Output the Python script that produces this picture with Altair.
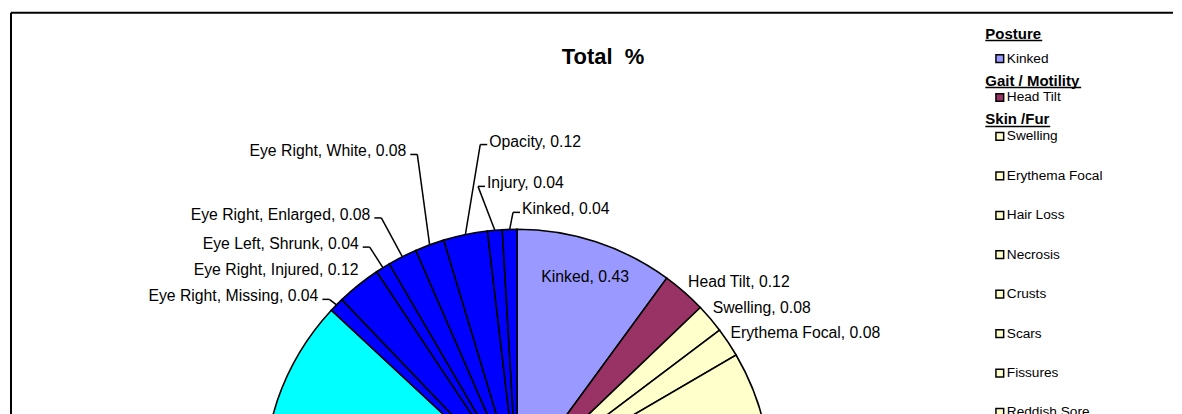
import math
import altair as alt
import pandas as pd

# ---------------- data ----------------
TITLE = "Total\u00a0 %"

# slices, clockwise from 12 o'clock
CATEGORIES = [
    "Kinked", "Head Tilt", "Swelling", "Erythema Focal", "Hair Loss", "Necrosis",
    "Crusts", "Scars", "Fissures", "Reddish Sore", "Emaciated",
    "Eye Right, Missing", "Eye Right, Injured", "Eye Left, Shrunk",
    "Eye Right, Enlarged", "Eye Right, White", "Opacity", "Injury", "Kinked",
]
VALUES = [
    0.43, 0.12, 0.08, 0.08, 0.72, 0.12,
    0.16, 0.08, 0.08, 0.65, 1.20,
    0.04, 0.12, 0.04,
    0.08, 0.08, 0.12, 0.04, 0.04,
]
GROUPS = [
    "Posture", "Gait / Motility", "Skin /Fur", "Skin /Fur", "Skin /Fur", "Skin /Fur",
    "Skin /Fur", "Skin /Fur", "Skin /Fur", "Skin /Fur", "Body Condition",
    "Eyes", "Eyes", "Eyes", "Eyes", "Eyes", "Eyes", "Eyes", "Eyes",
]
GROUP_NAMES = ["Posture", "Gait / Motility", "Skin /Fur", "Body Condition", "Eyes"]
GROUP_COLORS = ["#9999FF", "#993366", "#FFFFCC", "#00FFFF", "#0000FF"]

# ---------------- layout (pixels, page coordinates) ----------------
ORIGIN_X, ORIGIN_Y = 10, 11          # top-left of the framed chart area
W, H = 1164, 760                      # chart area (page is 1182 wide)
CX, CY, R = 517, 482, 254             # pie centre and radius
FONT = "Liberation Sans"
LABEL_SIZE = 15.8
LEGEND_SIZE = 13.7
HEADER_SIZE = 15
TITLE_X, TITLE_Y = 603, 55

# label placement per slice index: (radius, angle nudge in deg, align, leader)
LABEL_LAYOUT = {
    0: (217, 0.2, "center", False),
    1: (264, -0.8, "left", False),
    2: (263, -1.5, "left", False),
    3: (261, -1.4, "left", False),
    11: (273, -1.4, "right", True),
    12: (266, 2.0, "right", False),
    13: (287, -1.6, "right", True),
    14: (306, -1.8, "right", True),
    15: (350, 1.7, "right", True),
    16: (343, 7.1, "left", True),
    17: (301.5, -0.7, "left", True),
    18: (274, 2.7, "left", True),
}

# ---------------- geometry from data ----------------
total = sum(VALUES)
rows, labels, leaders = [], [], []
cum = 0.0
for i, (c, v, g) in enumerate(zip(CATEGORIES, VALUES, GROUPS)):
    a0 = cum / total * 360.0
    cum += v
    a1 = cum / total * 360.0
    mid = (a0 + a1) / 2.0
    rows.append({"idx": i, "label": c, "value": v, "group": g, "cx": CX, "cy": CY})
    r, nudge, align, lead = LABEL_LAYOUT.get(
        i, (268, 0.0, "left" if mid < 180 else "right", False))
    ang = math.radians(mid + nudge)
    ax = CX + r * math.sin(ang)
    ay = CY - r * math.cos(ang)
    labels.append({"text": f"{c}, {v:.2f}", "x": ax, "y": ay, "align": align})
    if lead:
        pm = math.radians(mid)
        px = CX + R * math.sin(pm)
        py = CY - R * math.cos(pm)
        if align == "right":
            hx, ex = ax + 4, ax + 11
        else:
            hx, ex = ax - 2, ax - 9
        ey = ay + 3
        leaders.append({"x": hx, "y": ey, "x2": ex, "y2": ey})
        leaders.append({"x": ex, "y": ey, "x2": px, "y2": py})

df_slices = pd.DataFrame(rows)
df_labels = pd.DataFrame(labels)
df_leaders = pd.DataFrame(leaders)

# frame (top and left edges of the chart area)
df_frame = pd.DataFrame([
    {"x": ORIGIN_X, "y": ORIGIN_Y, "x2": ORIGIN_X + W, "y2": ORIGIN_Y},
    {"x": ORIGIN_X, "y": ORIGIN_Y, "x2": ORIGIN_X, "y2": ORIGIN_Y + H},
])

# legend rows
legend_rows = []
LEG_TOP, FIRST_GAP, GAP_HI, GAP_IH, GAP_II = 32, 25, 17, 22, 39.5
HEADER_X, MARK_X, ITEM_X = 986, 1000.5, 1007.5
UNDERLINE = {"Posture": 57, "Gait / Motility": 96, "Skin /Fur": 65,
             "Body Condition": 110, "Eyes": 37}
y = LEG_TOP
prev = None
for g in GROUP_NAMES:
    if prev is not None:
        y += GAP_IH
    legend_rows.append({"kind": "header", "text": g, "y": y, "x": HEADER_X,
                        "group": g, "ux2": HEADER_X + UNDERLINE[g]})
    prev = "h"
    seen = []
    for c, gg in zip(CATEGORIES, GROUPS):
        if gg == g and c not in seen:
            seen.append(c)
    for k, c in enumerate(seen):
        y += (FIRST_GAP if len(legend_rows) == 1 else GAP_HI) if prev == "h" else GAP_II
        legend_rows.append({"kind": "item", "text": c, "y": y, "x": ITEM_X,
                            "group": g, "ux2": 0})
        prev = "i"
df_leg = pd.DataFrame(legend_rows)
df_leg["mx"] = MARK_X
df_leg["uy"] = df_leg["y"] + 7

# ---------------- chart ----------------
xs = alt.Scale(domain=[ORIGIN_X, ORIGIN_X + W], nice=False, zero=False)
ys = alt.Scale(domain=[ORIGIN_Y, ORIGIN_Y + H], nice=False, zero=False, reverse=True)
color = alt.Color("group:N", scale=alt.Scale(domain=GROUP_NAMES, range=GROUP_COLORS), legend=None)


def X(f):
    return alt.X(f"{f}:Q", scale=xs, axis=None)


def Y(f):
    return alt.Y(f"{f}:Q", scale=ys, axis=None)


frame = alt.Chart(df_frame).mark_rule(color="black", strokeWidth=2).encode(
    x=X("x"), y=Y("y"), x2="x2", y2="y2"
)

pie = alt.Chart(df_slices).mark_arc(radius=R, stroke="black", strokeWidth=1.6).encode(
    x=X("cx"), y=Y("cy"),
    theta=alt.Theta("value:Q", stack=True),
    order=alt.Order("idx:Q", sort="ascending"),
    color=color,
)

lead = alt.Chart(df_leaders).mark_rule(color="black", strokeWidth=1.5).encode(
    x=X("x"), y=Y("y"), x2="x2", y2="y2"
)

label_layers = []
for al in ["left", "right", "center"]:
    label_layers.append(
        alt.Chart(df_labels).transform_filter(alt.datum.align == al)
        .mark_text(align=al, baseline="middle", font=FONT, fontSize=LABEL_SIZE, color="black")
        .encode(x=X("x"), y=Y("y"), text="text:N")
    )

title = alt.Chart(pd.DataFrame({"t": [TITLE], "x": [TITLE_X], "y": [TITLE_Y]})).mark_text(
    align="center", baseline="middle", font=FONT, fontSize=22, fontWeight="bold", color="black"
).encode(x=X("x"), y=Y("y"), text="t:N")

leg_items = df_leg[df_leg.kind == "item"]
leg_heads = df_leg[df_leg.kind == "header"]

leg_marks = alt.Chart(leg_items).mark_square(size=60, stroke="black", strokeWidth=1.5, opacity=1).encode(
    x=X("mx"), y=Y("y"), color=color
)
leg_text = alt.Chart(leg_items).mark_text(
    align="left", baseline="middle", font=FONT, fontSize=LEGEND_SIZE, color="black"
).encode(x=X("x"), y=Y("y"), text="text:N")
head_text = alt.Chart(leg_heads).mark_text(
    align="left", baseline="middle", font=FONT, fontSize=HEADER_SIZE, fontWeight="bold", color="black"
).encode(x=X("x"), y=Y("y"), text="text:N")
head_line = alt.Chart(leg_heads).mark_rule(color="black", strokeWidth=1.5).encode(
    x=X("x"), x2="ux2", y=Y("uy")
)

chart = alt.layer(
    frame, pie, lead, *label_layers, title, leg_marks, leg_text, head_text, head_line
).properties(
    width=W, height=H,
    padding={"left": ORIGIN_X - 8, "top": ORIGIN_Y - 8, "right": 0, "bottom": 0},
).configure_view(stroke=None)

chart.save("out.html", embed_options={"renderer": "svg", "actions": False})
